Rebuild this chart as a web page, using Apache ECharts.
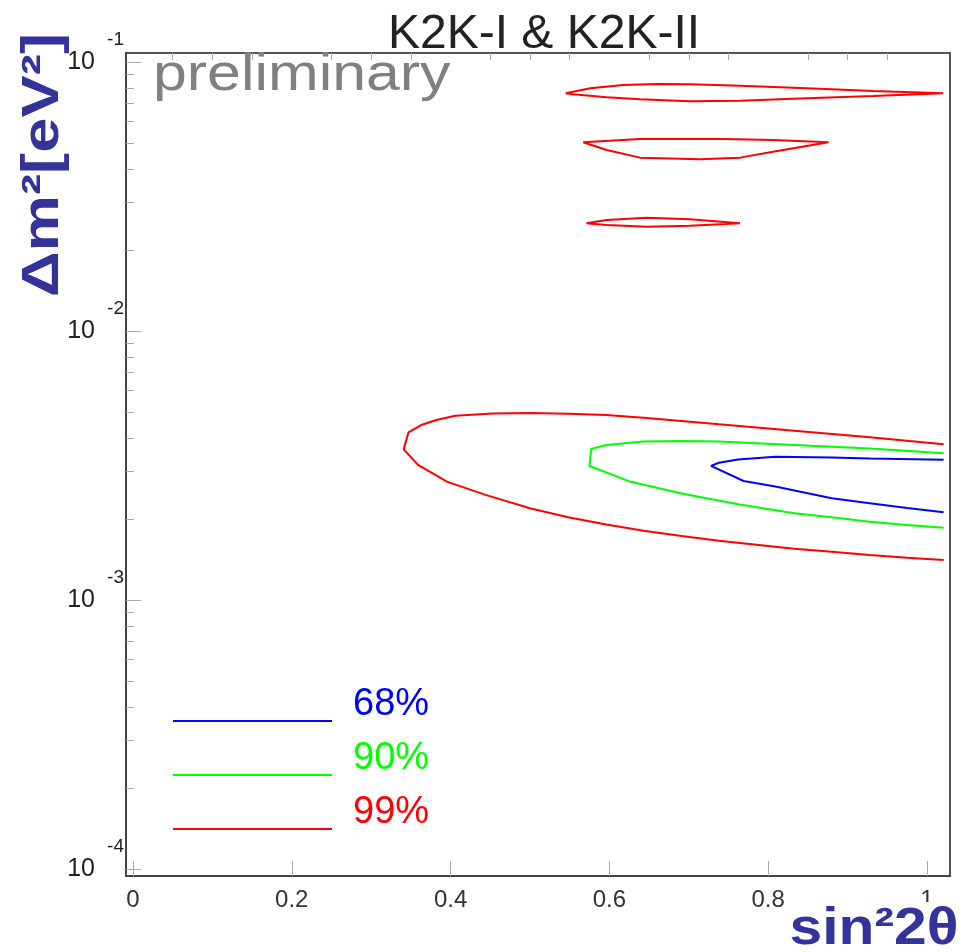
<!DOCTYPE html>
<html>
<head>
<meta charset="utf-8">
<title>K2K-I &amp; K2K-II oscillation contours</title>
<script src="https://cdn.jsdelivr.net/npm/echarts@6/dist/echarts.min.js"></script>
<style>
  html, body { margin: 0; padding: 0; background: #ffffff; }
  #chart { width: 979px; height: 952px; }
</style>
</head>
<body>
<div id="chart"></div>
<script>
// Confidence levels, in legend order
const LEVELS = ['68%', '90%', '99%'];

// Axis ranges: sin^2(2θ) and Δm² [eV²]
const SIN2_RANGE = [-0.0088, 1.029];
const DM2_RANGE = [9.42e-5, 0.108];

// Tick labels: sin^2(2θ) values and decade exponents of Δm²
const X_TICKS = [0, 0.2, 0.4, 0.6, 0.8, 1];
const Y_DECADES = [-4, -3, -2, -1];

// Contour points: [sin^2(2θ), Δm² in eV²]
const CONTOUR_68 = [
  [1.021, 3.32e-3], [0.928, 3.36e-3], [0.880, 3.39e-3], [0.809, 3.41e-3],
  [0.762, 3.33e-3], [0.738, 3.24e-3], [0.728, 3.15e-3], [0.769, 2.77e-3],
  [0.809, 2.64e-3], [0.880, 2.39e-3], [0.928, 2.29e-3], [0.975, 2.20e-3],
  [1.021, 2.12e-3]
];
const CONTOUR_90 = [
  [1.021, 3.51e-3], [0.928, 3.66e-3], [0.833, 3.77e-3], [0.738, 3.88e-3],
  [0.691, 3.90e-3], [0.643, 3.88e-3], [0.596, 3.77e-3], [0.577, 3.64e-3],
  [0.575, 3.15e-3], [0.627, 2.75e-3], [0.691, 2.49e-3], [0.762, 2.27e-3],
  [0.833, 2.10e-3], [0.880, 2.03e-3], [0.928, 1.955e-3], [0.975, 1.90e-3],
  [1.021, 1.857e-3]
];
const CONTOUR_99 = [
  [1.021, 3.79e-3], [0.928, 4.03e-3], [0.833, 4.26e-3], [0.738, 4.50e-3],
  [0.643, 4.76e-3], [0.596, 4.87e-3], [0.548, 4.93e-3], [0.501, 4.96e-3],
  [0.453, 4.94e-3], [0.406, 4.84e-3], [0.382, 4.67e-3], [0.363, 4.47e-3],
  [0.347, 4.20e-3], [0.341, 3.63e-3], [0.359, 3.18e-3], [0.396, 2.75e-3],
  [0.444, 2.46e-3], [0.501, 2.19e-3], [0.548, 2.03e-3], [0.596, 1.91e-3],
  [0.643, 1.81e-3], [0.691, 1.73e-3], [0.738, 1.66e-3], [0.785, 1.605e-3],
  [0.833, 1.55e-3], [0.880, 1.51e-3], [0.928, 1.47e-3], [0.975, 1.436e-3],
  [1.021, 1.408e-3]
];
// Separate 99% islands at large Δm²
const ISLAND_99_UPPER = [
  [0.545, 0.0765], [0.576, 0.0798], [0.6175, 0.0821], [0.660, 0.0828],
  [0.7015, 0.0826], [0.7645, 0.0816], [0.8485, 0.0798], [0.9324, 0.0780],
  [1.0205, 0.0765], [1.0205, 0.0760], [0.9324, 0.0747], [0.8485, 0.0733],
  [0.7645, 0.0718], [0.7015, 0.0714], [0.6385, 0.0727], [0.5966, 0.0739],
  [0.5545, 0.0759], [0.545, 0.0765]
];
const ISLAND_99_MIDDLE = [
  [0.567, 0.0503], [0.6385, 0.0517], [0.7435, 0.0517], [0.806, 0.0513],
  [0.876, 0.0503], [0.806, 0.0464], [0.7645, 0.0441], [0.714, 0.0435],
  [0.6385, 0.0441], [0.5966, 0.0471], [0.567, 0.0503]
];
const ISLAND_99_LOWER = [
  [0.571, 0.02514], [0.5966, 0.02586], [0.647, 0.02637], [0.7015, 0.02601],
  [0.7645, 0.02514], [0.7015, 0.02462], [0.647, 0.02441], [0.5966, 0.02477],
  [0.571, 0.02514]
];

const FONT = '"Liberation Sans", Arial, sans-serif';
const LEVEL_COLORS = { '68%': '#0000ff', '90%': '#00ff00', '99%': '#ff0000' };
const TITLE_BLUE = '#333399';

// Minor tick positions
const xMinor = [];
for (let i = 1; i < 21; i++) { if (i % 4 !== 0) xMinor.push(+(i * 0.05).toFixed(2)); }
const logRange = [Math.log10(DM2_RANGE[0]), Math.log10(DM2_RANGE[1])];
const yMinor = [];
Y_DECADES.forEach(function (d) {
  for (let k = 2; k <= 9; k++) {
    const v = d + Math.log10(k);
    if (v >= logRange[0] && v <= logRange[1]) yMinor.push(v);
  }
});

function contourSeries(name, data) {
  return {
    name: name,
    type: 'line',
    data: data,
    xAxisIndex: 0,
    yAxisIndex: 0,
    showSymbol: false,
    symbol: 'none',
    smooth: false,
    silent: true,
    clip: true,
    lineStyle: { color: LEVEL_COLORS[name], width: 2 },
    itemStyle: { color: LEVEL_COLORS[name] }
  };
}

const option = {
  animation: false,
  backgroundColor: '#ffffff',
  title: {
    text: 'K2K-I & K2K-II',
    left: 539,
    textAlign: 'center',
    top: 6,
    textStyle: { fontFamily: FONT, fontSize: 48, fontWeight: 'normal', color: '#222222' }
  },
  grid: {
    left: 126, right: 29, top: 53, bottom: 76,
    show: true, borderColor: '#555555', borderWidth: 2, backgroundColor: 'transparent'
  },
  // One legend box per level: line sample on the left, label raised above the line
  legend: LEVELS.map(function (name, i) {
    return {
      data: [name],
      left: 168,
      top: 681 + i * 54,
      icon: 'rect',
      itemWidth: 159,
      itemHeight: 2,
      selectedMode: false,
      formatter: function (n) { return '{t|' + n + '}\n{g| }'; },
      textStyle: {
        rich: {
          t: { fontFamily: FONT, fontSize: 38, lineHeight: 40, color: LEVEL_COLORS[name], padding: [0, 0, 0, 16] },
          g: { fontSize: 10, lineHeight: 32 }
        }
      }
    };
  }),
  xAxis: [
    {
      type: 'value',
      min: SIN2_RANGE[0], max: SIN2_RANGE[1],
      axisLine: { show: true, onZero: false, lineStyle: { color: '#444444', width: 2 } },
      axisTick: { show: true, inside: true, length: 15, customValues: X_TICKS,
                  lineStyle: { color: '#aaaaaa', width: 1 } },
      axisLabel: { show: true, customValues: X_TICKS, margin: 12, color: '#333333',
                   fontFamily: FONT, fontSize: 24,
                   formatter: function (v) { return String(v); } },
      splitLine: { show: false }
    },
    {
      type: 'value',
      min: SIN2_RANGE[0], max: SIN2_RANGE[1],
      axisLine: { show: false, onZero: false },
      axisTick: { show: true, inside: true, length: 7, customValues: xMinor,
                  lineStyle: { color: '#aaaaaa', width: 1 } },
      axisLabel: { show: false },
      splitLine: { show: false }
    }
  ],
  yAxis: [
    {
      // Log scale that places the contours; drawn decorations come from the axes below
      type: 'log', logBase: 10,
      min: DM2_RANGE[0], max: DM2_RANGE[1],
      axisLine: { show: false, onZero: false },
      axisTick: { show: false },
      axisLabel: { show: false },
      splitLine: { show: false }
    },
    {
      type: 'value',
      position: 'left',
      min: logRange[0], max: logRange[1],
      axisLine: { show: true, onZero: false, lineStyle: { color: '#444444', width: 2 } },
      axisTick: { show: true, inside: true, length: 15, customValues: Y_DECADES,
                  lineStyle: { color: '#aaaaaa', width: 1 } },
      axisLabel: {
        show: true, customValues: Y_DECADES, margin: 2, color: '#222222', fontFamily: FONT,
        formatter: function (v) { return '{e|' + v + '}\n{b|10}{s| }\n{z| }'; },
        rich: {
          e: { fontSize: 19, lineHeight: 20, align: 'right', fontFamily: FONT, color: '#222222' },
          b: { fontSize: 25, lineHeight: 24, align: 'right', fontFamily: FONT, color: '#222222' },
          s: { fontSize: 24, lineHeight: 24, width: 29, align: 'right' },
          z: { fontSize: 18, lineHeight: 20, align: 'right' }
        }
      },
      splitLine: { show: false }
    },
    {
      type: 'value',
      position: 'left',
      min: logRange[0], max: logRange[1],
      axisLine: { show: false, onZero: false },
      axisTick: { show: true, inside: true, length: 8, customValues: yMinor,
                  lineStyle: { color: '#aaaaaa', width: 1 } },
      axisLabel: { show: false },
      splitLine: { show: false }
    }
  ],
  graphic: [
    {
      type: 'text', x: 153, y: 76, scaleX: 1.17, z: 50,
      style: { text: 'preliminary', fill: '#808080', font: '52px ' + FONT,
               align: 'left', verticalAlign: 'middle' }
    },
    {
      type: 'text', x: 44, y: 165, rotation: Math.PI / 2, scaleX: 1.22, z: 50,
      style: { text: 'Δm²[eV²]', fill: TITLE_BLUE, font: 'bold 52px ' + FONT,
               align: 'center', verticalAlign: 'middle' }
    },
    {
      type: 'text', x: 874, y: 930, scaleX: 1.13, z: 50,
      style: { text: 'sin²2θ', fill: TITLE_BLUE, font: 'bold 52px ' + FONT,
               align: 'center', verticalAlign: 'middle',
               backgroundColor: '#ffffff', padding: [4, 4, 0, 4] }
    }
  ],
  series: [
    contourSeries('99%', CONTOUR_99),
    contourSeries('99%', ISLAND_99_UPPER),
    contourSeries('99%', ISLAND_99_MIDDLE),
    contourSeries('99%', ISLAND_99_LOWER),
    contourSeries('90%', CONTOUR_90),
    contourSeries('68%', CONTOUR_68)
  ]
};

const chart = echarts.init(document.getElementById('chart'), null, { renderer: 'canvas' });
chart.setOption(option);
</script>
</body>
</html>
